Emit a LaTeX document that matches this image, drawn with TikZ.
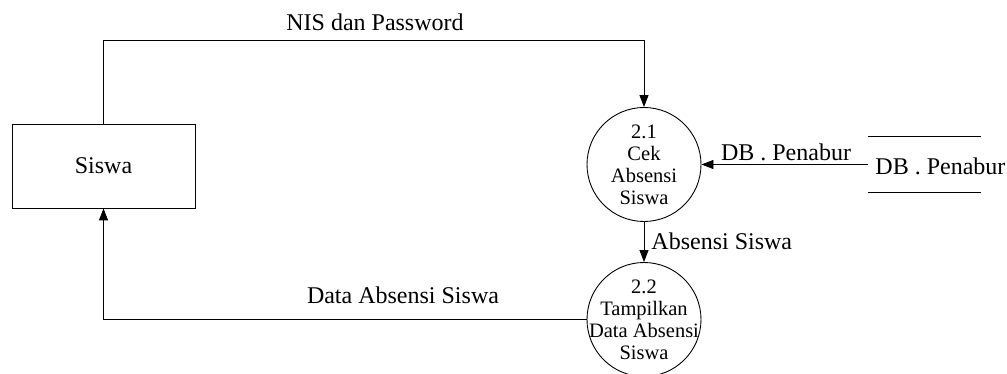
\documentclass[tikz,border=0pt]{standalone}
\usepackage{fontspec}
\setmainfont{Liberation Serif}
\usetikzlibrary{arrows.meta}
\begin{document}
\begin{tikzpicture}[x=1pt,y=-1pt,
  line width=0.9pt,
  lbl/.style={font=\fontsize{24}{27}\selectfont, inner sep=0pt},
  entity/.style={draw, rectangle, minimum width=183pt, minimum height=84pt, font=\fontsize{24}{27}\selectfont},
  proc/.style={draw, circle, minimum size=114pt, inner sep=0pt},
  proctext/.style={align=center, inner sep=0pt, font=\fontsize{20.5}{22}\selectfont},
  flow/.style={-{Triangle[length=12pt,width=9pt]}}]
\useasboundingbox (0,0) rectangle (1007,374);
\node[entity] (siswa) at (103.5,166) {Siswa};
\node[proc] (p21) at (644,164.5) {};
\node[proctext] (t21) at (p21.center) {2.1\\Cek\\Absensi\\Siswa};
\node[proc] (p22) at (644,319.5) {};
\node[proctext] (t22) at (p22.center) {2.2\\Tampilkan\\Data Absensi\\Siswa};
\node[lbl, minimum width=113pt, minimum height=56pt] (db) at (924.5,164.5) {};
\node[lbl, anchor=west] (dbt) at (875,166) {DB . Penabur};
\draw (db.north west) -- (db.north east);
\draw (db.south west) -- (db.south east);
\coordinate (top) at (103.5,40);
\draw[flow] (siswa.north) -- (top) -| (p21.north);
\node[lbl] (l1) at (375,22) {NIS dan Password};
\draw[flow] (db.west) -- (p21.east);
\node[lbl] (l2) at (786,152) {DB . Penabur};
\draw[flow] (p21.south) -- (p22.north);
\node[lbl, anchor=west] (l3) at (651,241) {Absensi Siswa};
\draw[flow] (p22.west) -| (siswa.south);
\node[lbl] (l4) at (403,295) {Data Absensi Siswa};
\end{tikzpicture}
\end{document}
